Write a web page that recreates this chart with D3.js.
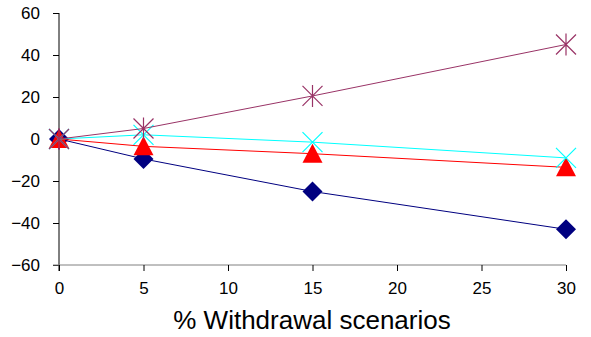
<!DOCTYPE html>
<html>
<head>
<meta charset="utf-8">
<script src="https://cdn.jsdelivr.net/npm/d3@7"></script>
<style>
  body { margin: 0; background: #fff; }
  svg text { font-family: "Liberation Sans", Arial, sans-serif; fill: #000; }
</style>
</head>
<body>
<svg id="chart" width="591" height="337"></svg>
<script>
// data
const scenarios = [0, 5, 15, 30];
const navySeries = [0, -9.5, -25, -43];
const redSeries = [0, -3.5, -7, -13.5];
const cyanSeries = [0, 2, -1.5, -9];
const purpleSeries = [0, 5, 20.5, 45];
const xTicks = [0, 5, 10, 15, 20, 25, 30];
const yTicks = [-60, -40, -20, 0, 20, 40, 60];
const xTitle = "% Withdrawal scenarios";

const svg = d3.select("svg#chart");

const x = d3.scaleLinear().domain([0, 30]).range([59, 566]);
const y = d3.scaleLinear().domain([-60, 60]).range([265, 13]);

// y axis (black, ticks pointing left)
let yAxis = svg.append("g")
               .attr("class", "y axis")
               .attr("transform", "translate(" + x(0) + ",0)")
               .call(d3.axisLeft(y).tickValues(yTicks).tickSize(6).tickPadding(13));
yAxis.select(".domain").attr("d", "M0," + y(60) + "V" + (y(-60) + 6)).attr("stroke", "#000");
yAxis.selectAll(".tick line").attr("stroke", "#000");
yAxis.selectAll(".tick text").attr("font-size", 17).attr("dy", "0.35em");

// x axis (gray line, ticks pointing down)
let xAxis = svg.append("g")
               .attr("class", "x axis")
               .attr("transform", "translate(0," + y(-60) + ")")
               .call(d3.axisBottom(x).tickValues(xTicks).tickSize(6).tickPadding(18));
xAxis.select(".domain").attr("d", "M" + (x(0) - 6) + ",0H" + x(30)).attr("stroke", "#808080");
xAxis.selectAll(".tick line").attr("stroke", "#000");
xAxis.selectAll(".tick text").attr("font-size", 17).attr("dy", "0.32em");

svg.append("text")
   .attr("x", 312)
   .attr("y", 329)
   .attr("text-anchor", "middle")
   .attr("font-size", 26)
   .text(xTitle);

const series = [
  { name: "navy", values: navySeries, color: "#000080", marker: "diamond" },
  { name: "red", values: redSeries, color: "#ff0000", marker: "triangle" },
  { name: "cyan", values: cyanSeries, color: "#00ffff", marker: "cross" },
  { name: "purple", values: purpleSeries, color: "#993366", marker: "star" }
];

const line = d3.line()
               .x((d, i) => x(scenarios[i]))
               .y(d => y(d));

let plot = svg.append("g").attr("class", "plot");

series.forEach(s => {
  let g = plot.append("g").attr("class", "series " + s.name);
  g.append("path")
   .attr("d", line(s.values))
   .attr("fill", "none")
   .attr("stroke", s.color)
   .attr("stroke-width", 1);

  let pts = g.selectAll("g.pt")
             .data(s.values)
             .join("g")
             .attr("class", "pt")
             .attr("transform", (d, i) => "translate(" + x(scenarios[i]) + "," + y(d) + ")");

  if (s.marker == "diamond") {
    pts.append("path").attr("d", "M0,-10L10,0L0,10L-10,0Z").attr("fill", s.color);
  } else if (s.marker == "triangle") {
    pts.append("path").attr("d", "M0,-10L10,9L-10,9Z").attr("fill", s.color);
  } else if (s.marker == "cross") {
    pts.append("path").attr("d", "M-10,-10L10,10M10,-10L-10,10")
       .attr("stroke", s.color).attr("stroke-width", 1.2);
  } else {
    pts.append("path").attr("d", "M-10,-10L10,10M10,-10L-10,10M0,-11V11")
       .attr("stroke", s.color).attr("stroke-width", 1.2);
  }
});
</script>
</body>
</html>
